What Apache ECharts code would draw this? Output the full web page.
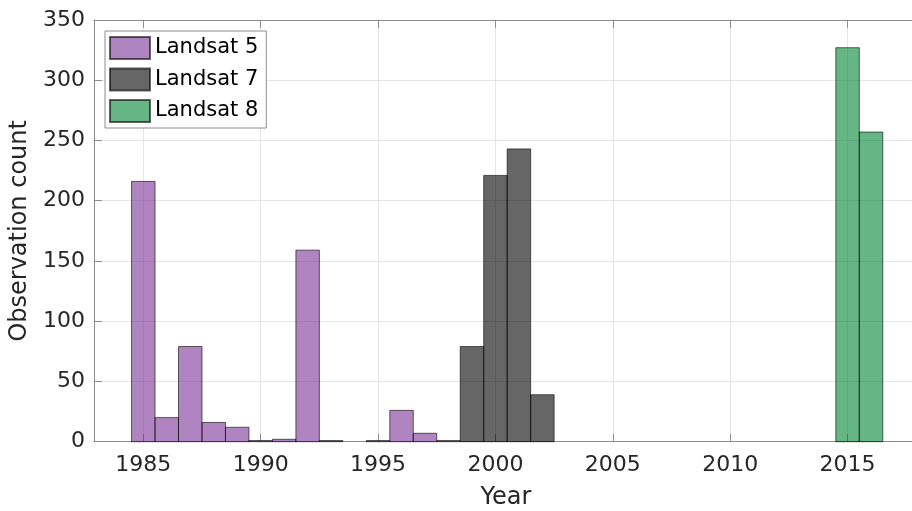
<!DOCTYPE html>
<html>
<head>
<meta charset="utf-8">
<script src="https://cdn.jsdelivr.net/npm/echarts@6/dist/echarts.min.js"></script>
<style>
  html, body { margin: 0; padding: 0; background: #fff; }
  #chart { width: 912px; height: 511px; }
</style>
</head>
<body>
<div id="chart"></div>
<script>
// histogram counts per year (one bin = one year)
const yearsL5 = [1985, 1986, 1987, 1988, 1989, 1990, 1991, 1992, 1993, 1994, 1995, 1996, 1997, 1998];
const countsL5 = [216, 20, 79, 16, 12, 1, 2, 159, 1, 0, 1, 26, 7, 1];
const yearsL7 = [1999, 2000, 2001, 2002];
const countsL7 = [79, 221, 243, 39];
const yearsL8 = [2015, 2016];
const countsL8 = [327, 257];
const xTicks = [1985, 1990, 1995, 2000, 2005, 2010, 2015];

const FONT = 'DejaVu Sans';
const AXIS = '#8c8c8c';
const EDGE = 'rgba(0,0,0,0.6)';

let chart = echarts.init(document.getElementById('chart'));

// draw one bin as a rectangle spanning year-0.5 .. year+0.5
function binItem(fill) {
    return function (params, api) {
        const yr = api.value(0), n = api.value(1);
        if (!n) return null;
        const a = api.coord([yr - 0.5, n]);
        const b = api.coord([yr + 0.5, 0]);
        return {
            type: 'rect',
            shape: { x: a[0], y: a[1], width: b[0] - a[0], height: b[1] - a[1] },
            style: { fill: fill, stroke: EDGE, lineWidth: 1 }
        };
    };
}

function histSeries(name, years, counts, fill) {
    return {
        name: name,
        type: 'custom',
        renderItem: binItem(fill),
        itemStyle: { color: fill, borderColor: EDGE, borderWidth: 1 },
        encode: { x: 0, y: 1 },
        data: years.map((y, i) => [y, counts[i]])
    };
}

let option = {
    animation: false,
    textStyle: { fontFamily: FONT },
    grid: { left: 94, top: 20, width: 824, height: 421.7, outerBoundsMode: 'none', containLabel: false },
    legend: {
        orient: 'vertical',
        left: 105,
        top: 31,
        padding: [5, 8, 5, 4],
        itemWidth: 40,
        itemHeight: 22,
        itemGap: 7.5,
        icon: 'rect',
        backgroundColor: '#fff',
        borderColor: '#8c8c8c',
        borderWidth: 1,
        borderRadius: 0,
        textStyle: { fontFamily: FONT, fontSize: 21, color: '#000', lineHeight: 22, padding: [0, 0, 0, 0] },
        data: ['Landsat 5', 'Landsat 7', 'Landsat 8']
    },
    xAxis: [{
        type: 'value',
        min: 1982.9,
        max: 2018,
        name: 'Year',
        nameLocation: 'middle',
        nameGap: 44,
        nameTextStyle: { fontFamily: FONT, fontSize: 24, color: '#262626' },
        axisLine: { show: true, lineStyle: { color: AXIS, width: 1 } },
        axisTick: { show: true, inside: true, length: 8, customValues: xTicks, lineStyle: { color: AXIS } },
        axisLabel: {
            customValues: xTicks, margin: 13, fontFamily: FONT, fontSize: 22, color: '#262626',
            formatter: v => String(Math.round(v))
        },
        splitLine: { show: true, lineStyle: { color: '#e6e6e6', width: 1 } }
    }, {
        type: 'value',
        position: 'top',
        min: 1982.9,
        max: 2018,
        axisLine: { show: true, lineStyle: { color: AXIS, width: 1 } },
        axisTick: { show: true, inside: true, length: 8, customValues: xTicks, lineStyle: { color: AXIS } },
        axisLabel: { show: false },
        splitLine: { show: false }
    }],
    yAxis: {
        type: 'value',
        min: 0,
        max: 350,
        interval: 50,
        name: 'Observation count',
        nameLocation: 'middle',
        nameGap: 62,
        nameTextStyle: { fontFamily: FONT, fontSize: 24, color: '#262626' },
        axisLine: { show: true, lineStyle: { color: AXIS, width: 1 } },
        axisTick: { show: true, inside: true, length: 8, lineStyle: { color: AXIS } },
        axisLabel: { margin: 9, fontFamily: FONT, fontSize: 22, color: '#262626' },
        splitLine: { show: true, lineStyle: { color: '#e6e6e6', width: 1 } }
    },
    series: [
        histSeries('Landsat 5', yearsL5, countsL5, 'rgba(123,50,150,0.6)'),
        histSeries('Landsat 7', yearsL7, countsL7, 'rgba(0,0,0,0.6)'),
        histSeries('Landsat 8', yearsL8, countsL8, 'rgba(0,132,50,0.6)')
    ]
};

chart.setOption(option, true);
</script>
</body>
</html>
